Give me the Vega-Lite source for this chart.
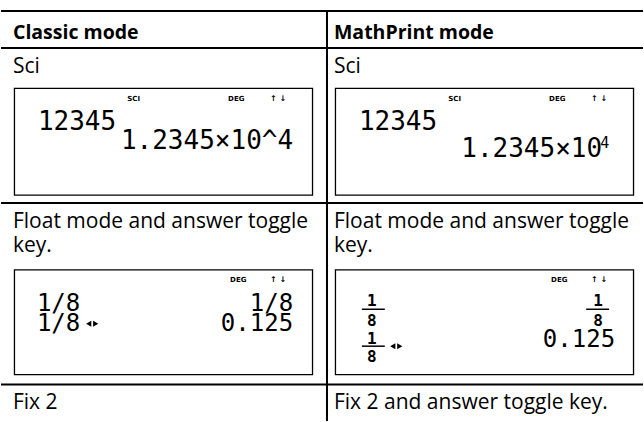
{
  "$schema": "https://vega.github.io/schema/vega-lite/v6.json",
  "width": 644,
  "height": 422,
  "padding": 0,
  "autosize": {"type": "fit", "contains": "padding"},
  "background": "white",
  "config": {"view": {"stroke": null}},
  "datasets": {
    "lines": [
      {"x": 0, "x2": 644, "y": 11, "y2": 11},
      {"x": 0, "x2": 644, "y": 48, "y2": 48},
      {"x": 0, "x2": 644, "y": 203.5, "y2": 203.5},
      {"x": 0, "x2": 644, "y": 385.5, "y2": 385.5},
      {"x": 327, "x2": 327, "y": 10, "y2": 422}
    ],
    "boxes": [
      {"x": 13.5, "x2": 312.5, "y": 88.5, "y2": 195.5},
      {"x": 335.5, "x2": 634.5, "y": 88.5, "y2": 195.5},
      {"x": 13.5, "x2": 312.5, "y": 270.5, "y2": 375.5},
      {"x": 335.5, "x2": 634.5, "y": 270.5, "y2": 375.5}
    ],
    "bars": [
      {"x": 362, "x2": 385, "y": 310, "y2": 310},
      {"x": 362, "x2": 385, "y": 347, "y2": 347},
      {"x": 587, "x2": 610, "y": 310, "y2": 310}
    ],
    "headers": [
      {"x": 12, "y": 39.5, "text": "Classic mode"},
      {"x": 334, "y": 39.5, "text": "MathPrint mode"}
    ],
    "body": [
      {"x": 12, "y": 73, "text": "Sci"},
      {"x": 334, "y": 73, "text": "Sci"},
      {"x": 12, "y": 229, "text": "Float mode and answer toggle"},
      {"x": 334, "y": 229, "text": "Float mode and answer toggle"},
      {"x": 12, "y": 253, "text": "key."},
      {"x": 334, "y": 253, "text": "key."},
      {"x": 12, "y": 410, "text": "Fix 2"},
      {"x": 334, "y": 410, "text": "Fix 2 and answer toggle key."}
    ],
    "sciLeft": [
      {"x": 37, "y": 130, "text": "12345"},
      {"x": 359, "y": 130, "text": "12345"}
    ],
    "sciRight": [
      {"x": 293, "y": 149, "text": "1.2345×10^4"},
      {"x": 603, "y": 157, "text": "1.2345×10"}
    ],
    "floatLeft": [
      {"x": 36, "y": 312, "text": "1/8"},
      {"x": 36, "y": 332, "text": "1/8"}
    ],
    "floatRight": [
      {"x": 293, "y": 312, "text": "1/8"},
      {"x": 293, "y": 332, "text": "0.125"},
      {"x": 616, "y": 348, "text": "0.125"}
    ],
    "sup": [
      {"x": 601, "y": 148, "text": "4"}
    ],
    "frac": [
      {"x": 372, "y": 307, "text": "1"},
      {"x": 372, "y": 327, "text": "8"},
      {"x": 372, "y": 345, "text": "1"},
      {"x": 372, "y": 363, "text": "8"},
      {"x": 599, "y": 307, "text": "1"},
      {"x": 599, "y": 327, "text": "8"}
    ],
    "indicators": [
      {"x": 133, "y": 101, "text": "SCI"},
      {"x": 236, "y": 101, "text": "DEG"},
      {"x": 455, "y": 101, "text": "SCI"},
      {"x": 558, "y": 101, "text": "DEG"},
      {"x": 238, "y": 283, "text": "DEG"},
      {"x": 560, "y": 283, "text": "DEG"}
    ],
    "arrows": [
      {"x": 278, "y": 101, "text": "↑ ↓"},
      {"x": 600, "y": 101, "text": "↑ ↓"},
      {"x": 278, "y": 283, "text": "↑ ↓"},
      {"x": 600, "y": 283, "text": "↑ ↓"}
    ],
    "toggleLeft": [
      {"x": 88, "y": 324.5},
      {"x": 393, "y": 347}
    ],
    "toggleRight": [
      {"x": 95, "y": 324.5},
      {"x": 400, "y": 347}
    ]
  },
  "encoding": {
    "x": {"field": "x", "type": "quantitative", "scale": {"domain": [0, 644], "nice": false, "zero": false}, "axis": null},
    "y": {"field": "y", "type": "quantitative", "scale": {"domain": [0, 422], "nice": false, "zero": false, "reverse": true}, "axis": null}
  },
  "layer": [
    {
      "data": {"name": "lines"},
      "mark": {"type": "rule", "color": "black", "strokeWidth": 2},
      "encoding": {"x2": {"field": "x2"}, "y2": {"field": "y2"}}
    },
    {
      "data": {"name": "boxes"},
      "mark": {"type": "rect", "filled": false, "stroke": "black", "strokeWidth": 1.3},
      "encoding": {"x2": {"field": "x2"}, "y2": {"field": "y2"}}
    },
    {
      "data": {"name": "bars"},
      "mark": {"type": "rule", "color": "black", "strokeWidth": 1.5},
      "encoding": {"x2": {"field": "x2"}, "y2": {"field": "y2"}}
    },
    {
      "data": {"name": "headers"},
      "mark": {"type": "text", "align": "left", "baseline": "alphabetic", "font": "Open Sans", "fontSize": 19.5, "fontWeight": "bold", "color": "black"},
      "encoding": {"text": {"field": "text"}}
    },
    {
      "data": {"name": "body"},
      "mark": {"type": "text", "align": "left", "baseline": "alphabetic", "font": "Open Sans", "fontSize": 21, "color": "black"},
      "encoding": {"text": {"field": "text"}}
    },
    {
      "data": {"name": "sciLeft"},
      "mark": {"type": "text", "align": "left", "baseline": "alphabetic", "font": "DejaVu Sans Mono", "fontSize": 26, "color": "black"},
      "encoding": {"text": {"field": "text"}}
    },
    {
      "data": {"name": "sciRight"},
      "mark": {"type": "text", "align": "right", "baseline": "alphabetic", "font": "DejaVu Sans Mono", "fontSize": 26, "color": "black"},
      "encoding": {"text": {"field": "text"}}
    },
    {
      "data": {"name": "floatLeft"},
      "mark": {"type": "text", "align": "left", "baseline": "alphabetic", "font": "DejaVu Sans Mono", "fontSize": 24, "color": "black"},
      "encoding": {"text": {"field": "text"}}
    },
    {
      "data": {"name": "floatRight"},
      "mark": {"type": "text", "align": "right", "baseline": "alphabetic", "font": "DejaVu Sans Mono", "fontSize": 24, "color": "black"},
      "encoding": {"text": {"field": "text"}}
    },
    {
      "data": {"name": "sup"},
      "mark": {"type": "text", "align": "left", "baseline": "alphabetic", "font": "DejaVu Sans Mono", "fontSize": 15, "color": "black"},
      "encoding": {"text": {"field": "text"}}
    },
    {
      "data": {"name": "frac"},
      "mark": {"type": "text", "align": "center", "baseline": "alphabetic", "font": "DejaVu Sans Mono", "fontSize": 16, "fontWeight": "bold", "color": "black"},
      "encoding": {"text": {"field": "text"}}
    },
    {
      "data": {"name": "indicators"},
      "mark": {"type": "text", "align": "center", "baseline": "alphabetic", "font": "DejaVu Sans", "fontSize": 7, "fontWeight": "bold", "color": "black"},
      "encoding": {"text": {"field": "text"}}
    },
    {
      "data": {"name": "arrows"},
      "mark": {"type": "text", "align": "center", "baseline": "alphabetic", "font": "DejaVu Sans", "fontSize": 8, "fontWeight": "bold", "color": "black"},
      "encoding": {"text": {"field": "text"}}
    },
    {
      "data": {"name": "toggleLeft"},
      "mark": {"type": "point", "shape": "triangle-left", "filled": true, "color": "black", "opacity": 1, "size": 36},
      "encoding": {}
    },
    {
      "data": {"name": "toggleRight"},
      "mark": {"type": "point", "shape": "triangle-right", "filled": true, "color": "black", "opacity": 1, "size": 36},
      "encoding": {}
    }
  ]
}
